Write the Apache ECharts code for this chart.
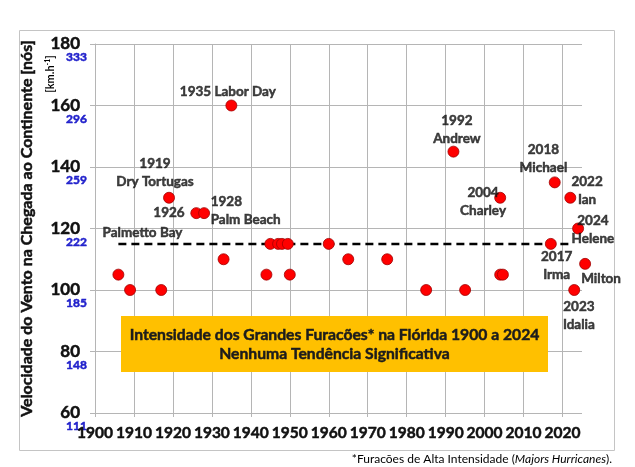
<!DOCTYPE html>
<html>
<head>
    <meta charset="utf-8"/>
    <title>Furacões Flórida</title>
    <script src="https://cdn.jsdelivr.net/npm/echarts@6/dist/echarts.min.js"></script>
    <style>
        html, body { margin: 0; padding: 0; background: #fff; }
        #main { width: 635px; height: 467px; }
    </style>
</head>
<body>
<div id="main"></div>
<script type="text/javascript">
    // furacões de alta intensidade (ano de chegada, vento em nós)
    const anos = [1906, 1909, 1917, 1919, 1926, 1928, 1933, 1935, 1944, 1945, 1947, 1948, 1949.5, 1950,
        1960, 1965, 1975, 1985, 1992, 1995, 2004, 2004, 2004.7, 2017, 2018, 2022, 2023, 2024, 2025.8];
    const nos = [105, 100, 100, 130, 125, 125, 110, 160, 105, 115, 115, 115, 115, 105,
        115, 110, 110, 100, 145, 100, 130, 105, 105, 115, 135, 130, 100, 120, 108.5];

    // linha tracejada (média)
    const mediaAnos = [1906, 2021.5];
    const mediaValor = 115;

    const anosTicks = [1900, 1910, 1920, 1930, 1940, 1950, 1960, 1970, 1980, 1990, 2000, 2010, 2020];
    const kmhTicks = ['111', '148', '185', '222', '259', '296', '333'];

    // rótulos: texto, ano, nós (ponto de ancoragem do texto)
    const rotulos = [
        ['1935 Labor Day', 1934.1, 164.4],
        ['1919\nDry Tortugas', 1915.4, 138.2],
        ['1926', 1919.0, 125.0],
        ['1928\nPalm Beach', 1929.7, 125.7],
        ['Palmetto Bay', 1912.2, 118.5],
        ['1992\nAndrew', 1992.9, 152.0],
        ['2018\nMichael', 2015.1, 142.6],
        ['2004\nCharley', 1999.6, 128.6],
        ['2022\nIan', 2026.3, 132.2],
        ['2024\nHelene', 2027.8, 119.5],
        ['2017\nIrma', 2018.5, 108.0],
        ['Milton', 2029.9, 103.6],
        ['2023\nIdalia', 2024.2, 91.5]
    ];
    const alinhadoEsquerda = ['1928\nPalm Beach'];

    const fonte = 'Lato, "Noto Sans", sans-serif';
    const cinza = '#b5b5b5';
    const preto = '#111';
    const azul = '#2222cc';

    let chart = echarts.init(document.getElementById('main'));

    let pontos = anos.map(function (a, i) { return [a, nos[i]]; });
    let dadosRotulos = rotulos.map(function (r) {
        let item = {name: r[0], value: [r[1], r[2]]};
        if (alinhadoEsquerda.indexOf(r[0]) >= 0) {
            item.label = {align: 'left'};
        }
        return item;
    });

    // texto negrito um pouco mais pesado (contorno fino da mesma cor)
    let negrito = function (tamanho, cor) {
        return {
            fontFamily: fonte, fontWeight: 'bold', fontSize: tamanho, color: cor,
            textBorderColor: cor, textBorderWidth: 0.5
        };
    };

    chart.setOption({
        animation: false,
        grid: {left: 95, right: 53, top: 44, bottom: 54},
        xAxis: {
            type: 'value',
            min: 1900,
            max: 2025,
            interval: 10,
            axisLine: {show: false},
            axisTick: {show: true, length: 4, lineStyle: {color: cinza}, customValues: anosTicks},
            axisLabel: Object.assign({
                customValues: anosTicks,
                margin: 12,
                formatter: function (v) { return String(v); }
            }, negrito(15.5, preto)),
            splitLine: {show: true, lineStyle: {color: cinza, width: 1}}
        },
        yAxis: [
            {
                type: 'value',
                min: 60,
                max: 180,
                interval: 20,
                name: 'Velocidade do Vento na Chegada ao Continente [nós]',
                nameLocation: 'middle',
                nameGap: 60,
                nameRotate: 90,
                nameTextStyle: negrito(16, preto),
                axisLine: {show: true, lineStyle: {color: cinza}},
                axisTick: {show: true, length: 5, lineStyle: {color: cinza}},
                axisLabel: Object.assign({margin: 15}, negrito(17, preto)),
                splitLine: {show: true, lineStyle: {color: cinza, width: 1}}
            },
            {
                type: 'value',
                min: 60,
                max: 180,
                interval: 20,
                position: 'left',
                axisLine: {show: false},
                axisTick: {show: false},
                splitLine: {show: false},
                axisLabel: Object.assign({
                    margin: 8,
                    lineHeight: 27,
                    formatter: function (v) { return '\n' + kmhTicks[Math.round((v - 60) / 20)]; }
                }, negrito(12, azul))
            }
        ],
        series: [
            {
                type: 'line',
                data: mediaAnos.map(function (a) { return [a, mediaValor]; }),
                symbol: 'none',
                lineStyle: {color: '#000', width: 2.5, type: [8, 5]},
                z: 2,
                silent: true
            },
            {
                type: 'scatter',
                data: pontos,
                symbolSize: 11,
                clip: false,
                itemStyle: {color: '#ff0000', borderColor: '#a00000', borderWidth: 0.8, opacity: 1},
                z: 3
            },
            {
                type: 'scatter',
                data: dadosRotulos,
                symbolSize: 1,
                clip: false,
                silent: true,
                itemStyle: {color: 'rgba(0,0,0,0)'},
                label: Object.assign({
                    show: true,
                    position: 'inside',
                    formatter: '{b}',
                    lineHeight: 18
                }, negrito(13.5, preto)),
                z: 4
            }
        ],
        graphic: [
            {
                type: 'rect',
                silent: true,
                z: -1,
                shape: {x: 19.5, y: 30.5, width: 595, height: 420},
                style: {fill: 'none', stroke: '#c4c4c4', lineWidth: 1}
            },
            {
                type: 'rect',
                silent: true,
                z: 100,
                shape: {x: 121, y: 316, width: 427, height: 56},
                style: {fill: '#ffc000'}
            },
            {
                type: 'text',
                silent: true,
                z: 101,
                x: 334.5,
                y: 344,
                style: {
                    text: 'Intensidade dos Grandes Furacões* na Flórida 1900 a 2024\nNenhuma Tendência Significativa',
                    textAlign: 'center',
                    textVerticalAlign: 'middle',
                    font: 'bold 15.7px ' + fonte,
                    lineHeight: 19,
                    fill: '#1c1c1c',
                    stroke: '#1c1c1c',
                    lineWidth: 0.5
                }
            },
            {
                type: 'text',
                silent: true,
                z: 101,
                x: 50,
                y: 74,
                rotation: Math.PI / 2,
                style: {
                    text: '{a|[km.h}{s|-1}{a|]}',
                    textAlign: 'center',
                    textVerticalAlign: 'middle',
                    rich: {
                        a: {fontFamily: fonte, fontWeight: 'bold', fontSize: 11, color: azul},
                        s: {fontFamily: fonte, fontWeight: 'bold', fontSize: 7, color: azul, verticalAlign: 'top'}
                    }
                }
            },
            {
                type: 'text',
                silent: true,
                z: 101,
                x: 612,
                y: 459,
                style: {
                    text: '{n|*Furacões de Alta Intensidade (}{i|Majors Hurricanes}{n|).}',
                    textAlign: 'right',
                    textVerticalAlign: 'middle',
                    rich: {
                        n: {fontFamily: fonte, fontSize: 12, color: '#222'},
                        i: {fontFamily: fonte, fontSize: 12, fontStyle: 'italic', color: '#222'}
                    }
                }
            }
        ]
    });
</script>
</body>
</html>
